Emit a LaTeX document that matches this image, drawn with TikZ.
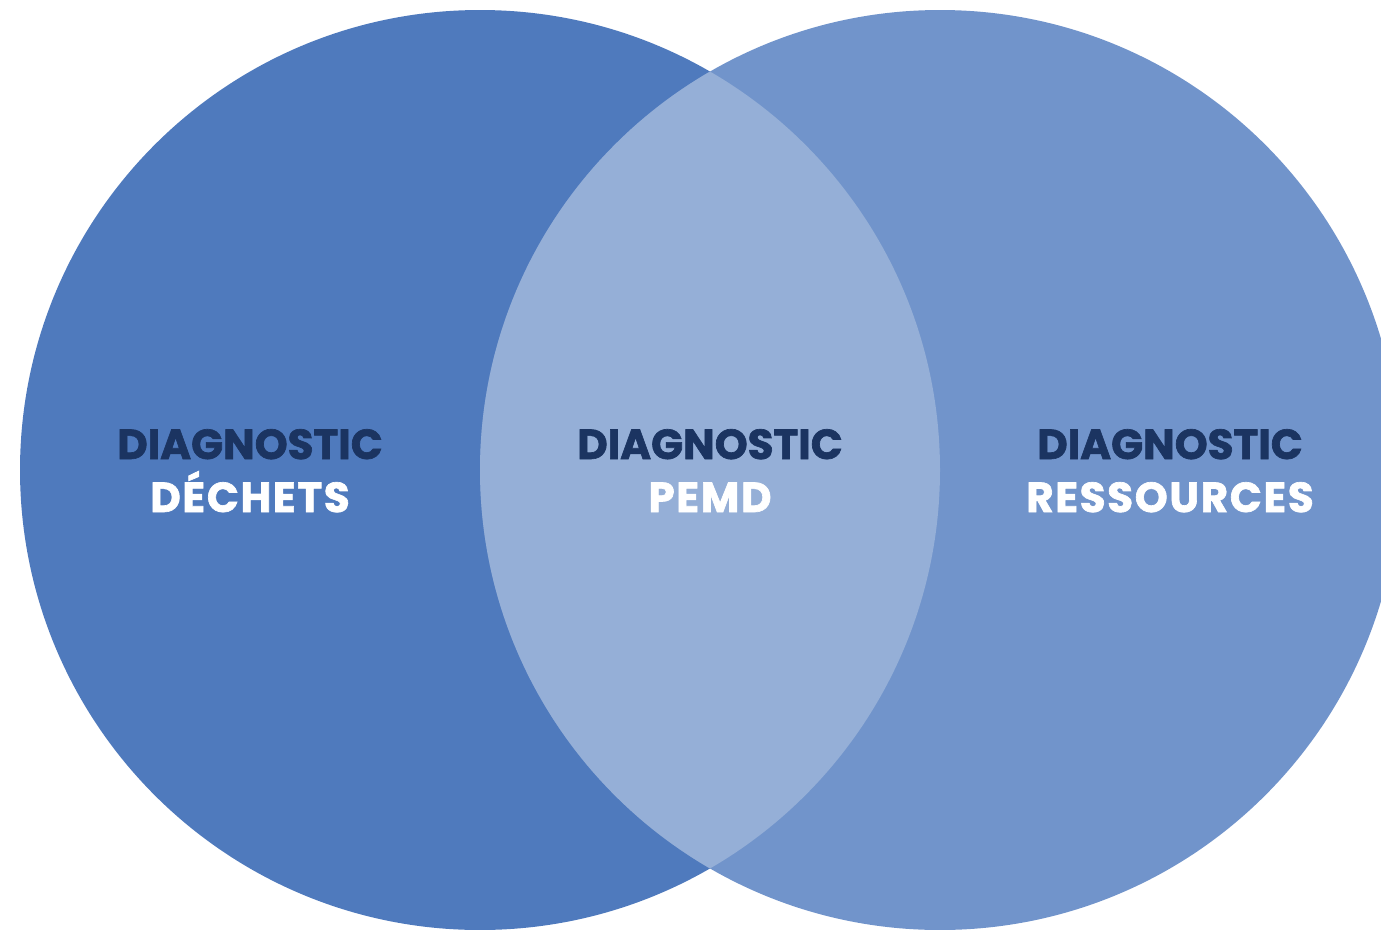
\documentclass[tikz,border=0pt]{standalone}
\usepackage{fontspec}
\newfontfamily\pop{Poppins}[BoldFeatures={FakeBold=1.6}]
\newfontfamily\popw{Poppins}[BoldFeatures={FakeBold=1.6,LetterSpace=4}]
\definecolor{leftc}{HTML}{4F7ABD}
\definecolor{rightc}{HTML}{7194CB}
\definecolor{lensc}{HTML}{95AFD7}
\definecolor{navy}{HTML}{1B3461}
\begin{document}
\begin{tikzpicture}[x=1pt,y=-1pt,
  lbl/.style={inner sep=0pt, anchor=base},
  top/.style={lbl, font=\pop\bfseries\fontsize{42}{42}\selectfont, text=navy},
  bot/.style={lbl, font=\popw\bfseries\fontsize{42}{42}\selectfont, text=white}]
\path[use as bounding box] (0,0) rectangle (1381,929);
\begin{scope}
\clip (0,0) rectangle (1381,929);
\fill[leftc] (480,470) circle[radius=460pt];
\fill[rightc] (940,470) circle[radius=460pt];
\begin{scope}
\clip (480,470) circle[radius=460pt];
\fill[lensc] (940,470) circle[radius=460pt];
\end{scope}
\end{scope}
\node[top] (t1) at (250,459) {DIAGNOSTIC};
\node[bot] (b1) at (250,512) {DÉCHETS};
\node[top] (t2) at (710,459) {DIAGNOSTIC};
\node[bot] (b2) at (710,512) {PEMD};
\node[top] (t3) at (1170,459) {DIAGNOSTIC};
\node[bot] (b3) at (1170,512) {RESSOURCES};
\end{tikzpicture}
\end{document}
